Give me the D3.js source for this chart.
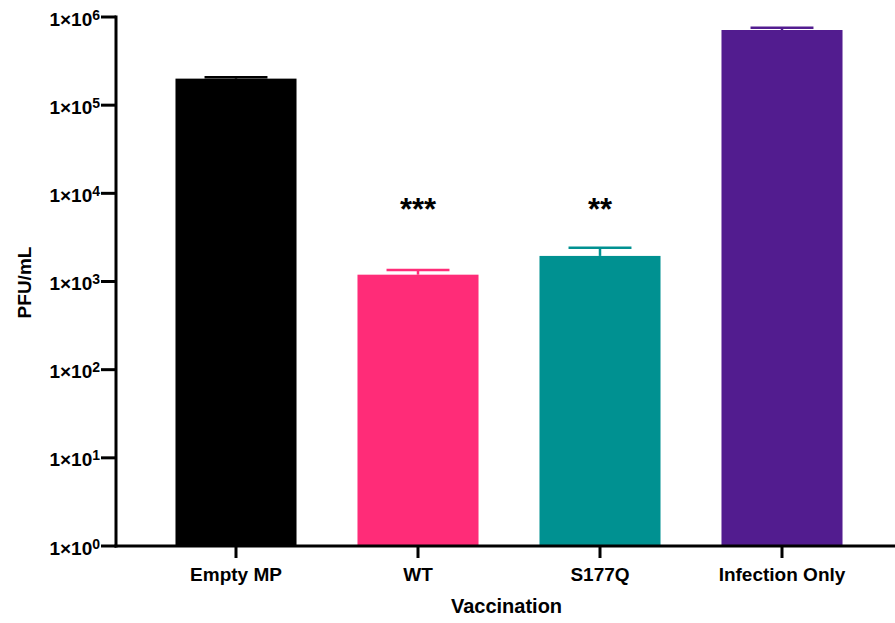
<!DOCTYPE html>
<html>
<head>
<meta charset="utf-8">
<script src="https://cdn.jsdelivr.net/npm/d3@7"></script>
<style>
  html, body { margin: 0; padding: 0; background: #fff; }
  svg { display: block; font-family: "Liberation Sans", Arial, Helvetica, sans-serif; font-weight: bold; }
</style>
</head>
<body>
<svg id="chart" width="895" height="623"></svg>
<script>
// Viral titre by vaccination group (PFU/mL, mean with upper error)
const groups = ["Empty MP", "WT", "S177Q", "Infection Only"];
const means = [200000, 1195, 1950, 712000];
const upperErr = [207000, 1352, 2420, 757000];
const significance = ["", "***", "**", ""];
const colors = ["#000000", "#FF2C78", "#009191", "#521C8F"];
const yTicks = [1, 10, 100, 1000, 10000, 100000, 1000000];

const svg = d3.select("#chart");
const axisX = 116, axisBottom = 546, axisTop = 17;

const x = d3.scaleBand()
  .domain(groups)
  .range([145, 873])
  .paddingInner(0.335)
  .paddingOuter(0.1675);

const y = d3.scaleLog()
  .domain([1, 1e6])
  .range([axisBottom, axisTop]);

// Bars
svg.selectAll("rect.bar")
  .data(groups)
  .join("rect")
  .attr("class", "bar")
  .attr("x", d => x(d))
  .attr("width", x.bandwidth())
  .attr("y", (d, i) => y(means[i]))
  .attr("height", (d, i) => axisBottom - y(means[i]))
  .attr("fill", (d, i) => colors[i]);

// Upper error bars
const capHalf = x.bandwidth() * 0.26;
const err = svg.append("g");
groups.forEach((g, i) => {
  const cx = x(g) + x.bandwidth() / 2;
  err.append("line")
    .attr("x1", cx).attr("x2", cx)
    .attr("y1", y(means[i])).attr("y2", y(upperErr[i]))
    .attr("stroke", colors[i]).attr("stroke-width", 2.5);
  err.append("line")
    .attr("x1", cx - capHalf).attr("x2", cx + capHalf)
    .attr("y1", y(upperErr[i])).attr("y2", y(upperErr[i]))
    .attr("stroke", colors[i]).attr("stroke-width", 2.5);
});

// Significance markers
svg.selectAll("text.sig")
  .data(groups)
  .join("text")
  .attr("class", "sig")
  .attr("x", d => x(d) + x.bandwidth() / 2)
  .attr("y", 220)
  .attr("text-anchor", "middle")
  .attr("font-size", 31)
  .attr("fill", "#000")
  .text((d, i) => significance[i]);

// Y axis
const yAxis = svg.append("g").attr("transform", `translate(${axisX},0)`);
yAxis.append("line")
  .attr("x1", 0).attr("x2", 0)
  .attr("y1", y(1e6) - 1.5).attr("y2", axisBottom + 1.5)
  .attr("stroke", "#000").attr("stroke-width", 3);
yAxis.selectAll("line.tick")
  .data(yTicks)
  .join("line")
  .attr("class", "tick")
  .attr("x1", -15).attr("x2", 0)
  .attr("y1", d => y(d)).attr("y2", d => y(d))
  .attr("stroke", "#000").attr("stroke-width", 3);
const yLab = yAxis.selectAll("text.tl")
  .data(yTicks)
  .join("text")
  .attr("class", "tl")
  .attr("x", -16)
  .attr("y", d => y(d) + 8.5)
  .attr("text-anchor", "end")
  .attr("font-size", 19)
  .attr("fill", "#000");
yLab.append("tspan").text("1×10");
yLab.append("tspan")
  .attr("dy", -6)
  .attr("font-size", 14)
  .text(d => Math.round(Math.log10(d)));

// X axis
const xAxis = svg.append("g");
xAxis.append("line")
  .attr("x1", axisX - 1.5).attr("x2", 895)
  .attr("y1", axisBottom).attr("y2", axisBottom)
  .attr("stroke", "#000").attr("stroke-width", 3);
xAxis.selectAll("line.tick")
  .data(groups)
  .join("line")
  .attr("class", "tick")
  .attr("x1", d => x(d) + x.bandwidth() / 2)
  .attr("x2", d => x(d) + x.bandwidth() / 2)
  .attr("y1", axisBottom).attr("y2", axisBottom + 12)
  .attr("stroke", "#000").attr("stroke-width", 3);
xAxis.selectAll("text.tl")
  .data(groups)
  .join("text")
  .attr("class", "tl")
  .attr("x", d => x(d) + x.bandwidth() / 2)
  .attr("y", 581)
  .attr("text-anchor", "middle")
  .attr("font-size", 19)
  .attr("fill", "#000")
  .text(d => d);

// Axis titles
svg.append("text")
  .attr("x", (axisX + 895) / 2 + 1)
  .attr("y", 613)
  .attr("text-anchor", "middle")
  .attr("font-size", 20)
  .attr("fill", "#000")
  .text("Vaccination");

svg.append("text")
  .attr("transform", `translate(31,${(axisTop + axisBottom) / 2 + 1}) rotate(-90)`)
  .attr("text-anchor", "middle")
  .attr("font-size", 19)
  .attr("fill", "#000")
  .text("PFU/mL");
</script>
</body>
</html>
